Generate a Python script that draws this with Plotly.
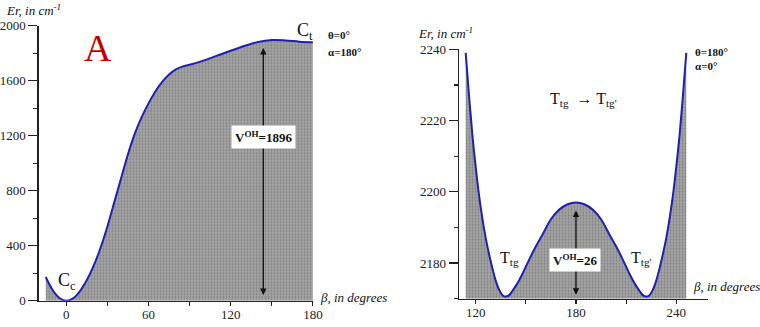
import plotly.graph_objects as go

# Panel A data
beta_A = [-15, -10, -5, 0, 5, 10, 15, 20, 25, 30, 35, 40, 45, 50, 55, 60, 65, 70, 75, 80,
          85, 90, 100, 110, 120, 130, 140, 150, 160, 170, 180]
E_A = [172, 78, 20, 0, 18, 70, 150, 255, 385, 540, 715, 890, 1065, 1215, 1335, 1435, 1522,
       1592, 1645, 1683, 1703, 1716, 1746, 1782, 1818, 1852, 1882, 1896, 1893, 1884, 1879]

# Panel B data
beta_B = [114, 116, 118, 120, 122, 124, 126, 128, 130, 132, 134, 136, 138, 140, 142, 144, 146,
          148, 150, 155, 160, 165, 170, 175, 180, 185, 190, 195, 200, 205, 210, 212, 214, 216,
          218, 220, 222, 224, 226, 228, 230, 232, 234, 236, 238, 240, 242, 244, 246]
E_B = [2239, 2227, 2216, 2207, 2199, 2192.5, 2187, 2182.5, 2178.5, 2175, 2172.5, 2171, 2170.6,
       2171, 2172.2, 2173.6, 2175.2, 2177, 2179, 2183.8, 2188, 2192.3, 2195, 2196.5, 2197,
       2196.5, 2195, 2192.3, 2188, 2183.8, 2179, 2177, 2175.2, 2173.6, 2172.2, 2171, 2170.6,
       2171, 2172.5, 2175, 2178.5, 2182.5, 2187, 2192.5, 2199, 2207, 2216, 2227, 2239]

xticks_A = [0, 60, 120, 180]
yticks_A = [0, 400, 800, 1200, 1600, 2000]
xticks_B = [120, 180, 240]
yticks_B = [2180, 2200, 2220, 2240]

V_A, V_B = 1896, 26
arrow_A_x, arrow_A_top, arrow_A_bot = 143.8, 1848, 41
arrow_B_x, arrow_B_top, arrow_B_bot = 180, 2195.2, 2171.1

W, H = 760, 327
def fx(px):
    return px / W
def fy(py):
    return (H - py) / H

SERIF = "Liberation Serif, Times New Roman, serif"
BLUE = "#1f1fb4"
pattern = dict(shape=".", bgcolor="#ababab", fgcolor="#5c5c5c", size=3, solidity=0.45)

fig = go.Figure()

fig.add_trace(go.Scatter(x=beta_A, y=E_A, mode="lines", line=dict(color=BLUE, width=2, shape="spline"),
                         fill="tozeroy", fillcolor="#9c9c9c", fillpattern=pattern,
                         xaxis="x", yaxis="y", showlegend=False, hoverinfo="skip"))

fig.add_trace(go.Scatter(x=[beta_B[0], beta_B[-1]], y=[2170, 2170], mode="lines", line=dict(width=0),
                         xaxis="x2", yaxis="y2", showlegend=False, hoverinfo="skip"))
fig.add_trace(go.Scatter(x=beta_B, y=E_B, mode="lines", line=dict(color=BLUE, width=2, shape="spline"),
                         fill="tonexty", fillcolor="#9c9c9c", fillpattern=pattern,
                         xaxis="x2", yaxis="y2", showlegend=False, hoverinfo="skip"))

common = dict(showgrid=False, zeroline=False, showline=True, linecolor="#222", linewidth=1.5,
              ticks="outside", tickwidth=1.2, tickcolor="#222", automargin=False,
              tickfont=dict(family=SERIF, size=13, color="#222"))
xcommon = dict(ticklen=4, ticklabelstandoff=-3, **common)
ycommon = dict(ticklen=9, **common)
minor_x = dict(dtick=30, tick0=0, ticks="outside", ticklen=4, tickcolor="#222")

fig.update_layout(
    width=W, height=H, margin=dict(l=0, r=0, t=0, b=0, autoexpand=False),
    paper_bgcolor="white", plot_bgcolor="white",
    xaxis=dict(domain=[fx(38.9), fx(312.9)], range=[-20, 180], tickvals=xticks_A,
               minor=minor_x, anchor="y", **xcommon),
    yaxis=dict(domain=[fy(300.7), fy(25.7)], range=[0, 2000], tickvals=yticks_A,
               minor=dict(dtick=200, tick0=0, ticks="outside", ticklen=4, tickcolor="#222"),
               anchor="x", **ycommon),
    xaxis2=dict(domain=[fx(459.0), fx(708.0)], range=[110, 259], tickvals=xticks_B,
                minor=minor_x, anchor="y2", **xcommon),
    yaxis2=dict(domain=[fy(298.7), fy(49.3)], range=[2170, 2240], tickvals=yticks_B,
                minor=dict(dtick=10, tick0=0, ticks="outside", ticklen=4, tickcolor="#222"),
                anchor="x2", **ycommon),
)

ann = []
def txt(text, x, y, xref, yref, size=12, color="#111", xanchor="center", yanchor="middle", **kw):
    ann.append(dict(text=text, x=x, y=y, xref=xref, yref=yref, showarrow=False,
                    font=dict(family=SERIF, size=size, color=color), xanchor=xanchor, yanchor=yanchor, **kw))

for (ax_, top, bot, xr, yr) in [(arrow_A_x, arrow_A_top, arrow_A_bot, "x", "y"),
                                (arrow_B_x, arrow_B_top, arrow_B_bot, "x2", "y2")]:
    ann.append(dict(text="", x=ax_, y=bot, ax=ax_, ay=top, xref=xr, yref=yr, axref=xr, ayref=yr,
                    showarrow=True, arrowhead=2, arrowside="end+start", arrowsize=1,
                    arrowwidth=1.3, arrowcolor="#111"))

# Panel A texts
txt("<i>Er, in cm<sup>-1</sup></i>", fx(4), fy(10), "paper", "paper", size=13, xanchor="left")
txt("A", 23.1, 1838, "x", "y", size=38, color="#c00000")
txt("C<sub>t</sub>", 174, 1960, "x", "y", size=18)
txt("<b>θ=0°</b>", fx(326), fy(35), "paper", "paper", size=11, xanchor="left")
txt("<b>α=180°</b>", fx(326), fy(52), "paper", "paper", size=11, xanchor="left")
txt("C<sub>c</sub>", 0.8, 140, "x", "y", size=18)
txt("<i>β, in degrees</i>", fx(318), fy(297), "paper", "paper", size=13, xanchor="left")
txt("<b>V<sup>OH</sup>=%d</b>" % V_A, 143.6, 1190, "x", "y", size=13, bgcolor="white", borderpad=3)

# Panel B texts
txt("<i>Er, in cm<sup>-1</sup></i>", fx(416), fy(33), "paper", "paper", size=13, xanchor="left")
txt("B", 178, 2241.7, "x2", "y2", size=38, color="#c00000")
txt("<b>θ=180°</b>", fx(693.3), fy(52), "paper", "paper", size=11, xanchor="left")
txt("<b>α=0°</b>", fx(693.3), fy(66), "paper", "paper", size=11, xanchor="left")
txt("T<sub>tg</sub>  → T<sub>tg'</sub>", 184.2, 2225.8, "x2", "y2", size=16)
txt("T<sub>tg</sub>", 140.5, 2181.4, "x2", "y2", size=16)
txt("T<sub>tg'</sub>", 219.3, 2181.4, "x2", "y2", size=16)
txt("<b>V<sup>OH</sup>=%d</b>" % V_B, 179.4, 2180.8, "x2", "y2", size=13, bgcolor="white", borderpad=3)
txt("<i>β, in degrees</i>", fx(691), fy(286.7), "paper", "paper", size=13, xanchor="left")

fig.update_layout(annotations=ann)
fig.write_html("out.html", config={"displayModeBar": False, "staticPlot": True},
               post_script="document.body.style.margin='0';document.body.style.overflow='hidden';")
